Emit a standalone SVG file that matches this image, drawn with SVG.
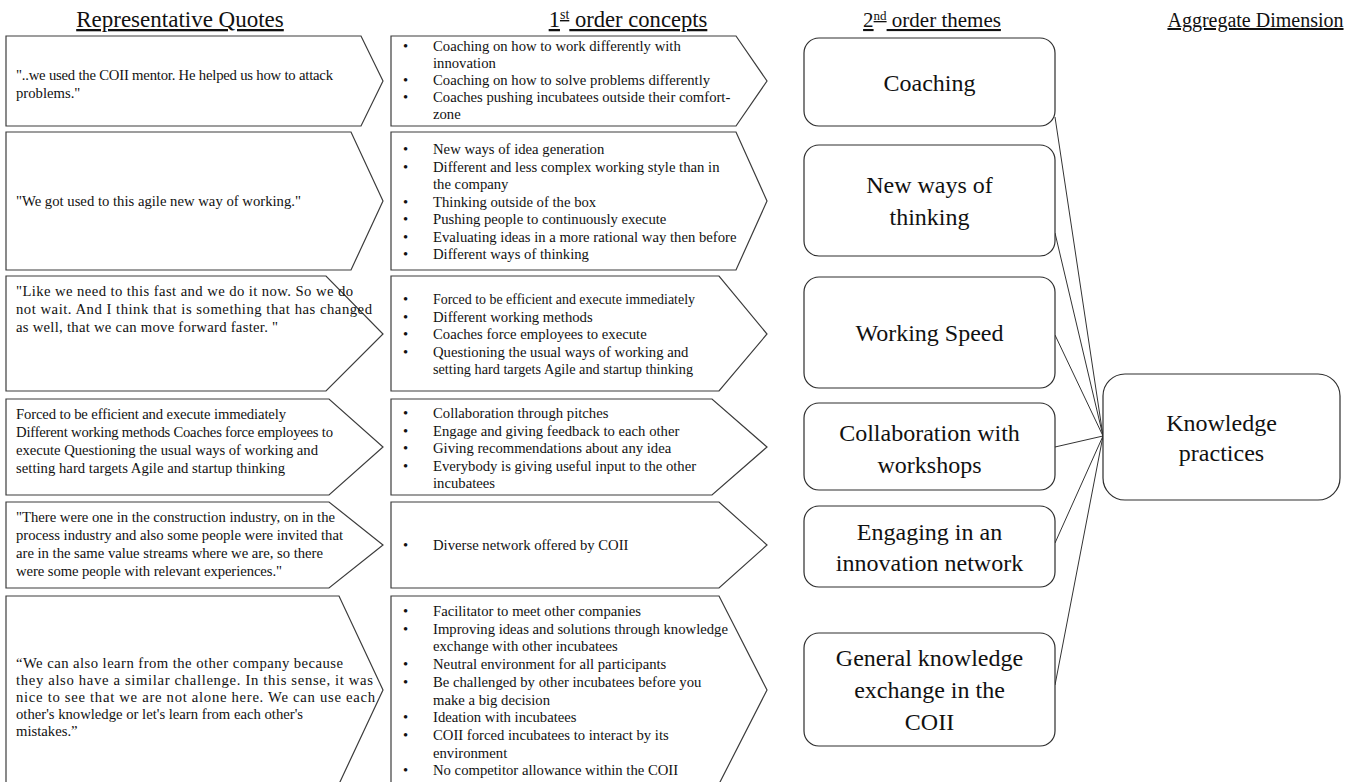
<svg xmlns="http://www.w3.org/2000/svg" width="1356" height="782" viewBox="0 0 1356 782">
<style>
  .box { fill: #ffffff; stroke: #3c3c3c; stroke-width: 1.2; }
  .theme { fill: #ffffff; stroke: #2e2e2e; stroke-width: 1.2; }
  .hdr { font-family: "Liberation Serif", "Times New Roman", serif; fill: #111; text-decoration: underline; text-anchor: middle; }
  .q { font-family: "Liberation Serif", "Times New Roman", serif; font-size: 14.7px; fill: #111; }
  .c { font-family: "Liberation Serif", "Times New Roman", serif; font-size: 14.7px; fill: #111; }
  .t { font-family: "Liberation Serif", "Times New Roman", serif; font-size: 24px; fill: #111; text-anchor: middle; }
  .conn { stroke: #333; stroke-width: 1; fill: none; }
</style>
<rect width="1356" height="782" fill="#ffffff"/>

<g id="headers">
  <text class="hdr" x="180" y="27" style="font-size:23px">Representative  Quotes</text>
  <text class="hdr" x="628" y="27" style="font-size:22.6px">1<tspan style="font-size:14px" dy="-8">st</tspan><tspan dy="8"> order concepts</tspan></text>
  <text class="hdr" x="932" y="27" style="font-size:21px">2<tspan style="font-size:13px" dy="-7">nd</tspan><tspan dy="7"> order themes</tspan></text>
  <text class="hdr" x="1255.5" y="27" style="font-size:20px">Aggregate  Dimension</text>
</g>

<g id="connectors">
  <line class="conn" x1="1055" y1="117" x2="1103" y2="436"/>
  <line class="conn" x1="1055" y1="233" x2="1103" y2="436"/>
  <line class="conn" x1="1055" y1="335" x2="1103" y2="436"/>
  <line class="conn" x1="1055" y1="447" x2="1103" y2="436"/>
  <line class="conn" x1="1055" y1="543" x2="1103" y2="436"/>
  <line class="conn" x1="1055" y1="685" x2="1103" y2="436"/>
</g>

<g id="quote1">
  <polygon class="box" points="6,36 361,36 383,81 361,126 6,126"/>
  <text class="q"><tspan x="16" y="80" textLength="317" lengthAdjust="spacing">"..we used the COII mentor.  He helped us how to attack</tspan><tspan x="16" y="98">problems."</tspan></text>
</g>
<g id="quote2">
  <polygon class="box" points="6,132 351,132 383,201 351,270 6,270"/>
  <text class="q" x="16" y="206">"We got used to this agile new way of working."</text>
</g>
<g id="quote3">
  <polygon class="box" points="6,276 326,276 383,334 326,391 6,391"/>
  <text class="q"><tspan x="16" y="296" textLength="337" lengthAdjust="spacing">"Like we need to this fast and we do it now. So we do</tspan><tspan x="16" y="314" textLength="356" lengthAdjust="spacing">not wait.  And I think that is something that has changed</tspan><tspan x="16" y="332" textLength="262" lengthAdjust="spacing">as well,  that we can move forward faster. "</tspan></text>
</g>
<g id="quote4">
  <polygon class="box" points="6,399 329,399 383,447 329,495 6,495"/>
  <text class="q"><tspan x="16" y="419" textLength="270" lengthAdjust="spacing">Forced to be efficient and execute immediately</tspan><tspan x="16" y="437" textLength="317" lengthAdjust="spacing">Different working methods Coaches force employees to</tspan><tspan x="16" y="455" textLength="302" lengthAdjust="spacing">execute Questioning the usual ways of working and</tspan><tspan x="16" y="473" textLength="269" lengthAdjust="spacing">setting hard targets Agile and startup thinking</tspan></text>
</g>
<g id="quote5">
  <polygon class="box" points="6,502 329,502 383,545 329,588 6,588"/>
  <text class="q"><tspan x="16" y="522" textLength="319" lengthAdjust="spacing">"There were one in the construction industry, on in the</tspan><tspan x="16" y="540" textLength="327" lengthAdjust="spacing">process industry and also some people were invited that</tspan><tspan x="16" y="558" textLength="307" lengthAdjust="spacing">are in the same value streams where we are, so there</tspan><tspan x="16" y="576" textLength="266" lengthAdjust="spacing">were some people with relevant experiences."</tspan></text>
</g>
<g id="quote6">
  <polygon class="box" points="6,596 339,596 383,690 339,784 6,784"/>
  <text class="q"><tspan x="16" y="668" textLength="327" lengthAdjust="spacing">“We can also learn from the other company because</tspan><tspan x="16" y="685" textLength="357" lengthAdjust="spacing">they also have a similar  challenge. In this sense, it was</tspan><tspan x="16" y="702" textLength="359" lengthAdjust="spacing">nice to see that we are not alone here. We can use each</tspan><tspan x="16" y="719" textLength="287" lengthAdjust="spacing">other's knowledge or let's learn from each other's</tspan><tspan x="16" y="736">mistakes.”</tspan></text>
</g>

<g id="concept1">
  <polygon class="box" points="391,36 736,36 767,81 736,126 391,126"/>
  <text class="c"><tspan x="403" y="51">•</tspan><tspan x="433" y="51">Coaching on how to work differently with</tspan><tspan x="433" y="68">innovation</tspan><tspan x="403" y="85">•</tspan><tspan x="433" y="85">Coaching on how to solve problems differently</tspan><tspan x="403" y="102">•</tspan><tspan x="433" y="102">Coaches pushing incubatees outside their comfort-</tspan><tspan x="433" y="119">zone</tspan></text>
</g>
<g id="concept2">
  <polygon class="box" points="391,132 736,132 767,201 736,270 391,270"/>
  <text class="c"><tspan x="403" y="154">•</tspan><tspan x="433" y="154">New ways of idea generation</tspan><tspan x="403" y="171.5">•</tspan><tspan x="433" y="171.5">Different and less complex  working style than in</tspan><tspan x="433" y="189">the company</tspan><tspan x="403" y="206.5">•</tspan><tspan x="433" y="206.5">Thinking outside of the box</tspan><tspan x="403" y="224">•</tspan><tspan x="433" y="224">Pushing people to continuously execute</tspan><tspan x="403" y="241.5">•</tspan><tspan x="433" y="241.5">Evaluating ideas in a more rational way then before</tspan><tspan x="403" y="259">•</tspan><tspan x="433" y="259">Different ways of thinking</tspan></text>
</g>
<g id="concept3">
  <polygon class="box" points="391,276 719,276 767,334 719,391 391,391"/>
  <text class="c"><tspan x="403" y="304">•</tspan><tspan x="433" y="304" textLength="262" lengthAdjust="spacingAndGlyphs">Forced to be efficient and execute immediately</tspan><tspan x="403" y="321.5">•</tspan><tspan x="433" y="321.5">Different working methods</tspan><tspan x="403" y="339">•</tspan><tspan x="433" y="339">Coaches force employees to execute</tspan><tspan x="403" y="356.5">•</tspan><tspan x="433" y="356.5">Questioning the usual ways of working and</tspan><tspan x="433" y="374" textLength="260" lengthAdjust="spacingAndGlyphs">setting hard targets Agile and startup thinking</tspan></text>
</g>
<g id="concept4">
  <polygon class="box" points="391,399 712,399 767,447 712,495 391,495"/>
  <text class="c"><tspan x="403" y="418">•</tspan><tspan x="433" y="418">Collaboration through pitches</tspan><tspan x="403" y="435.5">•</tspan><tspan x="433" y="435.5">Engage and giving feedback to each other</tspan><tspan x="403" y="453">•</tspan><tspan x="433" y="453">Giving recommendations about any idea</tspan><tspan x="403" y="470.5">•</tspan><tspan x="433" y="470.5">Everybody is giving useful input to the other</tspan><tspan x="433" y="488">incubatees</tspan></text>
</g>
<g id="concept5">
  <polygon class="box" points="391,502 719,502 767,545 719,588 391,588"/>
  <text class="c"><tspan x="403" y="550">•</tspan><tspan x="433" y="550">Diverse network offered by COII</tspan></text>
</g>
<g id="concept6">
  <polygon class="box" points="391,596 719,596 767,690 719,784 391,784"/>
  <text class="c"><tspan x="403" y="616">•</tspan><tspan x="433" y="616">Facilitator to meet other companies</tspan><tspan x="403" y="633.7">•</tspan><tspan x="433" y="633.7">Improving ideas and solutions through knowledge</tspan><tspan x="433" y="651.4">exchange with other incubatees</tspan><tspan x="403" y="669.1">•</tspan><tspan x="433" y="669.1">Neutral environment for all participants</tspan><tspan x="403" y="686.8">•</tspan><tspan x="433" y="686.8">Be challenged by other incubatees before you</tspan><tspan x="433" y="704.5">make a big decision</tspan><tspan x="403" y="722.2">•</tspan><tspan x="433" y="722.2">Ideation with incubatees</tspan><tspan x="403" y="739.9">•</tspan><tspan x="433" y="739.9">COII  forced incubatees to interact by its</tspan><tspan x="433" y="757.6">environment</tspan><tspan x="403" y="775.3">•</tspan><tspan x="433" y="775.3">No competitor allowance within the COII</tspan></text>
</g>

<g id="theme1">
  <rect class="theme" x="804" y="38" width="251" height="88" rx="15"/>
  <text class="t" x="929.5" y="91">Coaching</text>
</g>
<g id="theme2">
  <rect class="theme" x="804" y="145" width="251" height="111" rx="15"/>
  <text class="t"><tspan x="929.5" y="193">New ways of</tspan><tspan x="929.5" y="225">thinking</tspan></text>
</g>
<g id="theme3">
  <rect class="theme" x="804" y="277" width="251" height="111" rx="15"/>
  <text class="t" x="929.5" y="341">Working Speed</text>
</g>
<g id="theme4">
  <rect class="theme" x="804" y="403" width="251" height="87" rx="15"/>
  <text class="t"><tspan x="929.5" y="441">Collaboration with</tspan><tspan x="929.5" y="473">workshops</tspan></text>
</g>
<g id="theme5">
  <rect class="theme" x="804" y="506" width="251" height="81" rx="15"/>
  <text class="t"><tspan x="929.5" y="540">Engaging  in an</tspan><tspan x="929.5" y="571">innovation network</tspan></text>
</g>
<g id="theme6">
  <rect class="theme" x="804" y="633" width="251" height="113" rx="15"/>
  <text class="t"><tspan x="929.5" y="666">General knowledge</tspan><tspan x="929.5" y="698">exchange in the</tspan><tspan x="929.5" y="730">COII</tspan></text>
</g>

<g id="aggregate">
  <rect class="theme" x="1103" y="374" width="237" height="126" rx="22"/>
  <text class="t"><tspan x="1221.5" y="431">Knowledge</tspan><tspan x="1221.5" y="461">practices</tspan></text>
</g>
</svg>
